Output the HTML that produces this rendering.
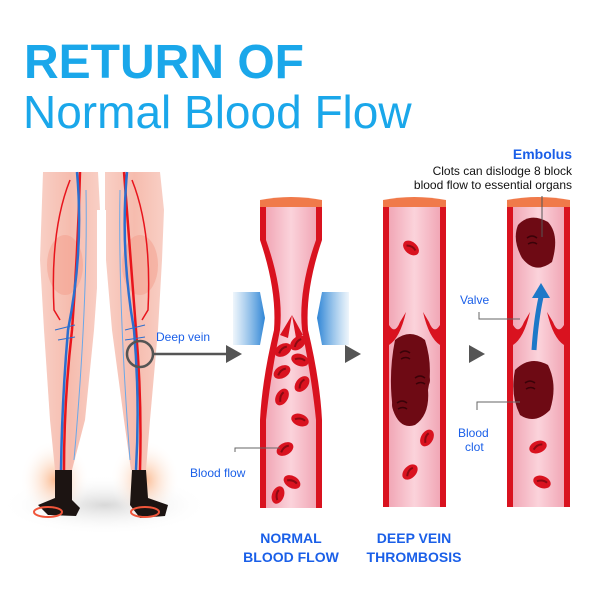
<!DOCTYPE html>
<html><head><meta charset="utf-8"><style>html,body{margin:0;padding:0;background:#fff}svg{display:block}</style></head>
<body>
<svg width="600" height="600" viewBox="0 0 600 600" xmlns="http://www.w3.org/2000/svg" font-family="Liberation Sans, Arial, sans-serif">
<defs>
<linearGradient id="tube" x1="0" x2="1"><stop offset="0" stop-color="#f1a7b6"/><stop offset="0.5" stop-color="#fbd3db"/><stop offset="1" stop-color="#f1a7b6"/></linearGradient>
<linearGradient id="leg" x1="0" x2="1"><stop offset="0" stop-color="#f8cfc5"/><stop offset="0.5" stop-color="#f6bcae"/><stop offset="1" stop-color="#f8cfc5"/></linearGradient>
<linearGradient id="press" x1="0" x2="1"><stop offset="0" stop-color="#5aa0dd" stop-opacity="0.1"/><stop offset="1" stop-color="#2f86d6"/></linearGradient>
<linearGradient id="press2" x1="1" x2="0"><stop offset="0" stop-color="#5aa0dd" stop-opacity="0.1"/><stop offset="1" stop-color="#2f86d6"/></linearGradient>
<radialGradient id="shadow" cx="0.5" cy="0.5" r="0.5"><stop offset="0" stop-color="#d8d8d8"/><stop offset="1" stop-color="#fff" stop-opacity="0"/></radialGradient>
<radialGradient id="foot" cx="0.5" cy="0.5" r="0.5"><stop offset="0" stop-color="#fbb98f"/><stop offset="1" stop-color="#fff" stop-opacity="0"/></radialGradient>
<g id="rbc"><ellipse rx="9" ry="6" fill="#d9121f"/><path d="M-5,1 Q0,-3 5,-1" stroke="#8b0a12" stroke-width="2" fill="none"/></g>
<g id="clot"><circle r="10" fill="#6e0a14"/><path d="M-5,-2 Q0,-6 5,-2 M-4,4 Q1,1 5,4" stroke="#3a0208" stroke-width="1.5" fill="none"/></g>
</defs>

<text x="24" y="78" font-size="48" font-weight="bold" fill="#1aa7ea">RETURN OF</text>
<text x="23" y="128" font-size="46" fill="#1aa7ea">Normal Blood Flow</text>

<!-- legs -->
<ellipse cx="105" cy="505" rx="105" ry="30" fill="url(#shadow)"/>
<ellipse cx="55" cy="480" rx="35" ry="40" fill="url(#foot)"/>
<ellipse cx="145" cy="480" rx="35" ry="40" fill="url(#foot)"/>
<path d="M43,172 L98,172 L100,210 L99,260 L94,330 L85,420 L72,470 L55,470 L50,420 L44,330 L40,260 Z" fill="url(#leg)"/>
<path d="M105,172 L160,172 L164,210 L162,260 L158,330 L150,420 L146,470 L131,470 L124,420 L112,330 L106,260 L105,210 Z" fill="url(#leg)"/>
<rect x="97" y="210" width="9" height="260" fill="#fff"/>
<ellipse cx="65" cy="265" rx="18" ry="30" fill="#f39d8c" opacity="0.5"/>
<ellipse cx="140" cy="265" rx="18" ry="30" fill="#f39d8c" opacity="0.5"/>
<g fill="none" stroke-width="2.5">
<path d="M80,172 Q78,250 72,330 Q64,400 64,470" stroke="#e8141c"/>
<path d="M77,172 Q84,250 68,330 Q62,400 61,470" stroke="#2b6fcf"/>
<path d="M70,180 Q50,230 54,310 L60,320" stroke="#e8141c" stroke-width="1.5"/>
<path d="M124,172 Q130,250 136,330 Q142,400 140,470" stroke="#e8141c"/>
<path d="M127,172 Q120,250 134,330 Q140,400 136,470" stroke="#2b6fcf"/>
<path d="M132,180 Q152,230 148,310 L142,320" stroke="#e8141c" stroke-width="1.5"/>
<path d="M120,190 Q118,300 130,460" stroke="#6aa8e8" stroke-width="1"/>
<path d="M86,190 Q88,300 74,460" stroke="#6aa8e8" stroke-width="1"/>
<path d="M55,330 L75,325 M58,340 L75,337 M125,330 L145,325 M125,340 L145,337" stroke="#2b6fcf" stroke-width="1"/>
</g>
<path d="M55,470 L72,470 L72,500 L80,508 L76,516 L48,515 L38,505 L55,498 Z" fill="#1c1412"/>
<path d="M132,470 L146,470 L148,498 L168,505 L165,516 L140,518 L130,505 Z" fill="#1c1412"/>
<ellipse cx="48" cy="512" rx="14" ry="5" fill="none" stroke="#f0553a" stroke-width="2"/>
<ellipse cx="145" cy="512" rx="14" ry="5" fill="none" stroke="#f0553a" stroke-width="2"/>

<!-- deep vein -->
<circle cx="140" cy="354" r="13" fill="none" stroke="#555" stroke-width="2.5"/>
<line x1="153" y1="354" x2="228" y2="354" stroke="#555" stroke-width="2.5"/>
<polygon points="226,345 242,354 226,363" fill="#555"/>
<text x="156" y="341" font-size="12" fill="#1a5fe8">Deep vein</text>

<!-- tube1 -->
<path d="M260,207 L322,207 L322,240 Q305,290 308,330 Q320,380 322,420 L322,508 L260,508 L260,420 Q262,380 274,330 Q277,290 260,240 Z" fill="#d9121f"/>
<path d="M266,207 L316,207 L316,240 Q298,290 302,330 Q312,380 316,420 L316,508 L266,508 L266,420 Q270,380 280,330 Q284,290 266,240 Z" fill="url(#tube)"/>
<path d="M260,200 Q291,194 322,200 L322,207 L260,207 Z" fill="#f07a4a"/>
<path d="M280,335 L292,315 L288,338 Z M303,335 L292,315 L296,338Z" fill="#d9121f"/>
<polygon points="233,292 260,292 265,318 260,345 233,345" fill="url(#press)"/>
<polygon points="349,292 322,292 317,318 322,345 349,345" fill="url(#press2)"/>
<use href="#rbc" transform="translate(283,350) rotate(-30)"/>
<use href="#rbc" transform="translate(298,343) rotate(-40)"/>
<use href="#rbc" transform="translate(300,360) rotate(20)"/>
<use href="#rbc" transform="translate(282,372) rotate(-30)"/>
<use href="#rbc" transform="translate(302,384) rotate(-50)"/>
<use href="#rbc" transform="translate(282,397) rotate(-60)"/>
<use href="#rbc" transform="translate(300,420) rotate(20)"/>
<use href="#rbc" transform="translate(285,449) rotate(-30)"/>
<use href="#rbc" transform="translate(292,482) rotate(30)"/>
<use href="#rbc" transform="translate(278,495) rotate(-70)"/>
<path d="M235,452 L235,448 L280,448" stroke="#666" fill="none"/>
<text x="190" y="477" font-size="12" fill="#1a5fe8">Blood flow</text>

<!-- tube2 -->
<rect x="383" y="207" width="63" height="300" fill="#d9121f"/>
<rect x="389" y="207" width="51" height="300" fill="url(#tube)"/>
<path d="M383,200 Q414,194 446,200 L446,207 L383,207 Z" fill="#f07a4a"/>
<path d="M389,325 Q395,335 400,322 L406,312 Q400,338 389,345Z M440,325 Q434,335 429,322 L423,312 Q429,338 440,345Z" fill="#d9121f"/>
<path d="M395,340 Q410,328 425,340 Q433,365 428,390 Q430,415 415,425 Q400,430 393,410 Q388,375 395,340Z" fill="#6e0a14"/>
<use href="#clot" transform="translate(405,355)"/><use href="#clot" transform="translate(420,380)"/><use href="#clot" transform="translate(402,405)"/>
<use href="#rbc" transform="translate(411,248) rotate(40)"/>
<use href="#rbc" transform="translate(427,438) rotate(-60)"/>
<use href="#rbc" transform="translate(410,472) rotate(-45)"/>

<!-- tube3 -->
<rect x="507" y="207" width="63" height="300" fill="#d9121f"/>
<rect x="513" y="207" width="51" height="300" fill="url(#tube)"/>
<path d="M507,200 Q538,194 570,200 L570,207 L507,207 Z" fill="#f07a4a"/>
<path d="M513,325 Q519,335 524,322 L530,312 Q524,338 513,345Z M564,325 Q558,335 553,322 L547,312 Q553,338 564,345Z" fill="#d9121f"/>
<path d="M518,225 Q530,212 548,222 Q560,235 552,262 Q535,275 522,258 Q512,240 518,225Z" fill="#6e0a14"/>
<use href="#clot" transform="translate(532,240)"/>
<path d="M515,370 Q530,355 548,365 Q558,385 550,410 Q535,425 520,415 Q510,395 515,370Z" fill="#6e0a14"/>
<use href="#clot" transform="translate(530,385)"/>
<path d="M534,350 Q536,320 541,297" stroke="#1d78c8" stroke-width="5" fill="none"/>
<polygon points="532,298 541,283 550,298" fill="#1d78c8"/>
<use href="#rbc" transform="translate(538,447) rotate(-20)"/>
<use href="#rbc" transform="translate(542,482) rotate(20)"/>
<polygon points="345,345 361,354 345,363" fill="#555"/>
<polygon points="469,345 485,354 469,363" fill="#555"/>
<path d="M542,237 L542,196" stroke="#555"/>
<path d="M479,312 L479,319 L520,319" stroke="#666" fill="none"/>
<text x="460" y="304" font-size="12" fill="#1a5fe8">Valve</text>
<path d="M477,410 L477,402 L520,402" stroke="#666" fill="none"/>
<text x="458" y="437" font-size="12" fill="#1a5fe8">Blood</text>
<text x="465" y="451" font-size="12" fill="#1a5fe8">clot</text>

<text x="572" y="159" font-size="14" font-weight="bold" fill="#1a5fe8" text-anchor="end">Embolus</text>
<text x="572" y="175" font-size="12" fill="#111" text-anchor="end">Clots can dislodge 8 block</text>
<text x="572" y="189" font-size="12" fill="#111" text-anchor="end">blood flow to essential organs</text>

<text x="291" y="543" font-size="14" font-weight="bold" fill="#1a5fe8" text-anchor="middle">NORMAL</text>
<text x="291" y="562" font-size="14" font-weight="bold" fill="#1a5fe8" text-anchor="middle">BLOOD FLOW</text>
<text x="414" y="543" font-size="14" font-weight="bold" fill="#1a5fe8" text-anchor="middle">DEEP VEIN</text>
<text x="414" y="562" font-size="14" font-weight="bold" fill="#1a5fe8" text-anchor="middle">THROMBOSIS</text>
</svg>
</body></html>
